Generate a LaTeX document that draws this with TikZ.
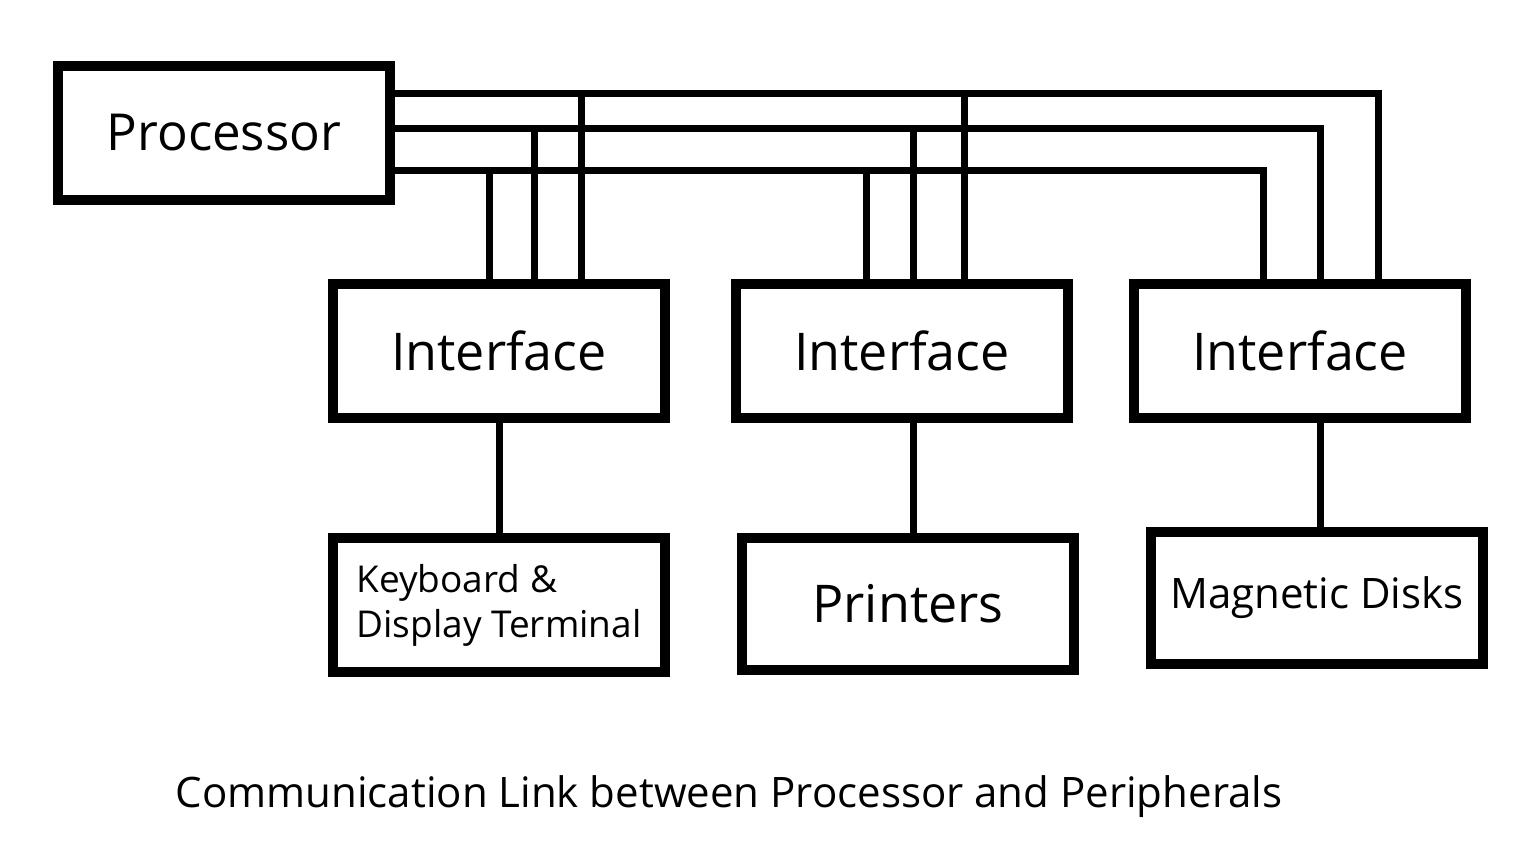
\documentclass[tikz,border=0pt]{standalone}
\usepackage{fontspec}
\setmainfont{Open Sans}
\usetikzlibrary{positioning}

\begin{document}
\begin{tikzpicture}[x=1pt, y=-1pt, node distance=110pt,
    unitbox/.style={draw, line width=10pt, minimum width=332pt, minimum height=134pt, font=\fontsize{52}{60}\selectfont},
    link/.style={line width=7pt}]
    \useasboundingbox (0,0) rectangle (1522,854);
    \node[unitbox, font=\fontsize{51}{60}\selectfont] (proc) at (224,133) {Processor};
    \node[unitbox] (ifkbd) at (499,351) {Interface};
    \node[unitbox] (ifprn) at (902,351) {Interface};
    \node[unitbox] (ifmag) at (1300,351) {Interface};
    \node[unitbox, below=of ifkbd, align=left, font=\fontsize{37}{45}\selectfont] (kbd) {Keyboard \&\\Display Terminal};
    \node[unitbox, below=of ifprn, xshift=6pt, minimum height=132pt] (prn) {Printers};
    \node[unitbox, below=104pt of ifmag, xshift=17pt, minimum height=132pt, font=\fontsize{42}{50}\selectfont] (mag) {Magnetic Disks};
    \coordinate (busa) at (0,93);
    \coordinate (busb) at (0,128);
    \coordinate (busc) at (0,170);
    \draw[link] (proc.east |- busa) -| ([xshift=78pt]ifmag.north);
    \draw[link] (proc.east |- busb) -| ([xshift=20pt]ifmag.north);
    \draw[link] (proc.east |- busc) -| ([xshift=-37pt]ifmag.north);
    \foreach \iface/\dx/\bus in {ifkbd/-10pt/busc, ifkbd/35pt/busb, ifkbd/82pt/busa, ifprn/-36pt/busc, ifprn/11pt/busb, ifprn/62pt/busa}
        \draw[link] ([xshift=\dx]\iface.north) -- ([xshift=\dx]\iface.north |- \bus);
    \draw[link] (ifkbd) -- (kbd);
    \draw[link] ([xshift=11pt]ifprn.south) -- ([xshift=11pt]ifprn.south |- prn.north);
    \draw[link] ([xshift=20pt]ifmag.south) -- ([xshift=20pt]ifmag.south |- mag.north);
    \node[font=\fontsize{42}{50}\selectfont] (caption) at (729,797) {Communication Link between Processor and Peripherals};
\end{tikzpicture}
\end{document}
